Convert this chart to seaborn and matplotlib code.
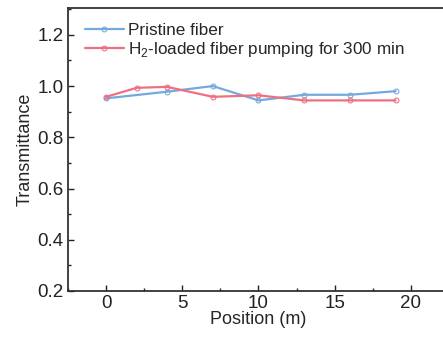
import seaborn as sns
import matplotlib.pyplot as plt
from matplotlib.ticker import MultipleLocator
import pandas as pd

# Data
pos_pristine = [0, 4, 7, 10, 13, 16, 19]
trans_pristine = [0.952, 0.978, 1.0, 0.944, 0.966, 0.966, 0.98]

pos_h2 = [0, 2, 4, 7, 10, 13, 16, 19]
trans_h2 = [0.958, 0.993, 0.997, 0.958, 0.964, 0.944, 0.944, 0.944]

label_pristine = "Pristine fiber"
label_h2 = "H$_2$-loaded fiber pumping for 300 min"

df_p = pd.DataFrame({"Position": pos_pristine, "T": trans_pristine})
df_h = pd.DataFrame({"Position": pos_h2, "T": trans_h2})

sns.set_style("ticks")
plt.rcParams["font.family"] = ["Liberation Sans", "DejaVu Sans"]
plt.rcParams["mathtext.fontset"] = "custom"
plt.rcParams["mathtext.rm"] = "Liberation Sans"

fig = plt.figure(figsize=(4.43, 3.39), dpi=100)
ax = fig.add_axes([0.1535, 0.1416, 0.86, 0.835])

sns.lineplot(data=df_p, x="Position", y="T", ax=ax, color="#74a9de",
             marker="o", markersize=3.5, markerfacecolor="none",
             markeredgecolor="#74a9de", linewidth=1.6, label=label_pristine)
sns.lineplot(data=df_h, x="Position", y="T", ax=ax, color="#ef6f82",
             marker="o", markersize=3.5, markerfacecolor="none",
             markeredgecolor="#ef6f82", linewidth=1.6, label=label_h2)

ax.set_xlim(-2.5, 22.5)
ax.set_ylim(0.2, 1.305)
ax.xaxis.set_major_locator(MultipleLocator(5))
ax.xaxis.set_minor_locator(MultipleLocator(2.5))
ax.yaxis.set_major_locator(MultipleLocator(0.2))
ax.yaxis.set_minor_locator(MultipleLocator(0.1))
ax.tick_params(which="both", direction="in", labelsize=13.5, colors="#222222",
               top=False, right=False)
ax.tick_params(which="major", length=4, width=1, pad=3)
ax.tick_params(which="minor", length=2.5, width=1)
for s in ax.spines.values():
    s.set_linewidth(1.3)
    s.set_color("#333333")

ax.set_xlabel("Position (m)", fontsize=13, labelpad=-1)
ax.set_ylabel("Transmittance", fontsize=13, labelpad=3)

ax.legend(loc="upper left", frameon=False, fontsize=12.3, handlelength=2.3,
          handletextpad=0.25, labelspacing=0.15, borderaxespad=0.3,
          bbox_to_anchor=(0.012, 0.99))

fig.savefig("out.png", dpi=100)
